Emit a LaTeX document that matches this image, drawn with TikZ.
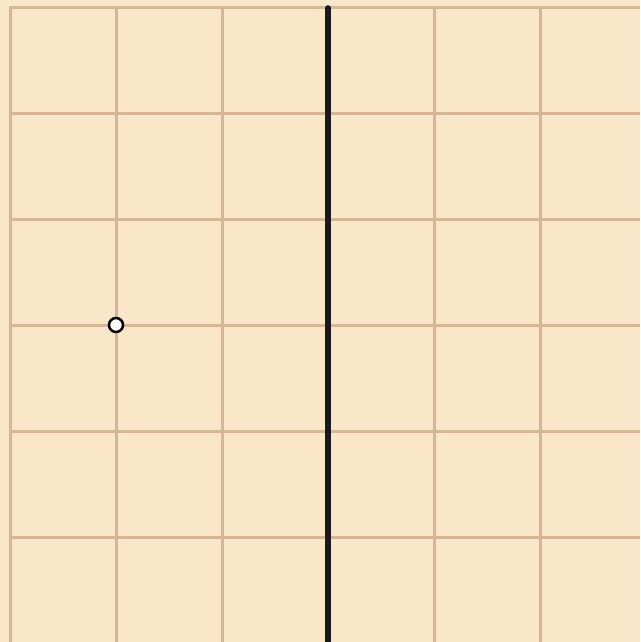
\documentclass[tikz,border=0pt]{standalone}
\definecolor{bg}{HTML}{FAE6C8}
\definecolor{gridc}{HTML}{D8B595}
\begin{document}
\begin{tikzpicture}[x=1pt,y=-1pt,
  gridline/.style={draw=gridc,line width=3pt},
  axisline/.style={draw=black!90,line width=5.5pt,line cap=round},
  pt/.style={circle,draw=black,fill=white,line width=2.5pt,inner sep=0pt,minimum size=14pt}]
\fill[bg] (0,0) rectangle (640,642);
\useasboundingbox (0,0) rectangle (640,642);
\foreach \x in {10,116,222,434,540} \draw[gridline] (\x,6.5) -- (\x,642);
\foreach \y in {8,113,219,325,431,537} \draw[gridline] (8.5,\y) -- (640,\y);
\coordinate (top) at (328,8);
\coordinate (bot) at (328,650);
\draw[axisline] (top) -- (bot);
\node[pt] (p) at (116,325) {};
\end{tikzpicture}
\end{document}
